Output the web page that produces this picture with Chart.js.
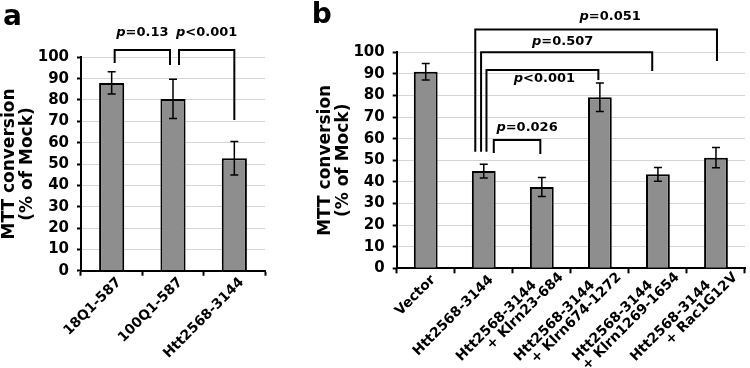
<!DOCTYPE html>
<html>
<head>
<meta charset="utf-8">
<script src="https://cdn.jsdelivr.net/npm/chart.js@4"></script>
<style>
  body { margin: 0; background: #fff; }
  canvas { position: absolute; top: 0; }
  #chartA { left: 0; }
  #chartB { left: 300px; }
</style>
</head>
<body>
<canvas id="chartA" width="272" height="368"></canvas>
<canvas id="chartB" width="450" height="368"></canvas>
<script>
// panel a
const labelsA = ['18Q1-587', '100Q1-587', 'Htt2568-3144'];
const meansA = [88, 80.5, 52.7];
const errA = [5.2, 9.2, 7.8];
// comparisons: bar indices, bracket heights (in % units), label
const compA = [
  { from: 0, to: 1, top: 103.4, end1: 97.3, end2: 96.4, at: 111.4, text: 'p=0.13' },
  { from: 1, to: 2, top: 103.4, end1: 96.4, end2: 70.6, at: 111.4, text: 'p<0.001' }
];

// panel b
const labelsB = ['Vector', 'Htt2568-3144',
  ['Htt2568-3144', '+ Klrn23-684'],
  ['Htt2568-3144', '+ Klrn674-1272'],
  ['Htt2568-3144', '+ Klrn1269-1654'],
  ['Htt2568-3144', '+ Rac1G12V']];
const meansB = [91, 45, 37.6, 79.2, 43.5, 51.2];
const errB = [3.8, 3.2, 4.4, 6.6, 3.2, 4.7];
const compB = [
  { from: 1, to: 5, top: 110.6, end1: 54, end2: 96, at: 116.5, text: 'p=0.051' },
  { from: 1, to: 4, top: 100, end1: 54, end2: 91.3, at: 104.9, text: 'p=0.507' },
  { from: 1, to: 3, top: 91.8, end1: 54, end2: 87.2, at: 87.6, text: 'p<0.001' },
  { from: 1, to: 2, top: 59.4, end1: 53.4, end2: 52.9, at: 65, text: 'p=0.026' }
];

// small pixel nudges so the bracket legs don't sit on top of each other
const shiftA = [[3, -3, 0], [6, 0, 0]];
const shiftB = [[-8.5, 1, 14], [-2.7, -5.7, -4], [2.7, -1.5, 2], [10, -1.5, 10]];

const FONT = '"DejaVu Sans", sans-serif';

function drawP(ctx, text, cx, cy) {
  const rest = text.slice(1);
  ctx.font = 'italic bold 13px ' + FONT;
  const w1 = ctx.measureText('p').width;
  ctx.font = 'bold 13px ' + FONT;
  const w2 = ctx.measureText(rest).width;
  let x = cx - (w1 + w2) / 2;
  ctx.textBaseline = 'middle';
  ctx.textAlign = 'left';
  ctx.fillStyle = '#000';
  ctx.font = 'italic bold 13px ' + FONT;
  ctx.fillText('p', x, cy);
  ctx.font = 'bold 13px ' + FONT;
  ctx.fillText(rest, x + w1, cy);
}

// category labels, rotated 45deg, second line pushed down-right like the original
function drawXLabels(chart) {
  const ctx = chart.ctx;
  const xs = chart.scales.x;
  const top = xs.top;
  ctx.save();
  ctx.fillStyle = '#000';
  ctx.font = 'bold 13.8px ' + FONT;
  ctx.textAlign = 'right';
  ctx.textBaseline = 'middle';
  chart.data.labels.forEach((lab, i) => {
    const lines = Array.isArray(lab) ? lab : [lab];
    const n = lines.length;
    ctx.save();
    ctx.translate(xs.getPixelForValue(i) + 4, top + 6);
    ctx.rotate(-Math.PI / 4);
    lines.forEach((t, k) => {
      const m = k - (n - 1) / 2;
      ctx.fillText(t, m * 24.5 - (n > 1 ? 2 : 0), 5 + m * 13.2);
    });
    ctx.restore();
  });
  ctx.restore();
}

function overlay(errors, comps, shifts, letter, lx, ly) {
  return {
    id: 'overlay',
    afterDatasetsDraw(chart) {
      const ctx = chart.ctx;
      const y = chart.scales.y;
      const meta = chart.getDatasetMeta(0);
      const vals = chart.data.datasets[0].data;
      ctx.save();
      ctx.strokeStyle = '#000';
      ctx.lineWidth = 1.5;
      errors.forEach((e, i) => {
        const x = meta.data[i].x;
        const hi = y.getPixelForValue(vals[i] + e);
        const lo = y.getPixelForValue(vals[i] - e);
        ctx.beginPath();
        ctx.moveTo(x, hi); ctx.lineTo(x, lo);
        ctx.moveTo(x - 4, hi); ctx.lineTo(x + 4, hi);
        ctx.moveTo(x - 4, lo); ctx.lineTo(x + 4, lo);
        ctx.stroke();
      });
      ctx.lineWidth = 2;
      ctx.lineJoin = 'miter';
      comps.forEach((c, k) => {
        const s = shifts[k];
        const x1 = meta.data[c.from].x + s[0];
        const x2 = meta.data[c.to].x + s[1];
        const yt = y.getPixelForValue(c.top);
        ctx.beginPath();
        ctx.moveTo(x1, y.getPixelForValue(c.end1));
        ctx.lineTo(x1, yt);
        ctx.lineTo(x2, yt);
        ctx.lineTo(x2, y.getPixelForValue(c.end2));
        ctx.stroke();
        drawP(ctx, c.text, (x1 + x2) / 2 + s[2], y.getPixelForValue(c.at));
      });
      ctx.font = 'bold 28px ' + FONT;
      ctx.fillStyle = '#000';
      ctx.textAlign = 'left';
      ctx.textBaseline = 'alphabetic';
      ctx.fillText(letter, lx, ly);
      ctx.restore();
      drawXLabels(chart);
    }
  };
}

function makeChart(id, labels, means, errors, comps, shifts, letter, lx, ly, pad, xh) {
  return new Chart(document.getElementById(id), {
    type: 'bar',
    data: {
      labels: labels,
      datasets: [{
        data: means,
        backgroundColor: '#8e8e8e',
        borderColor: '#000',
        borderWidth: 2,
        barPercentage: 0.41,
        categoryPercentage: 1
      }]
    },
    options: {
      responsive: false,
      animation: false,
      devicePixelRatio: 1,
      layout: { padding: pad },
      plugins: { legend: { display: false }, tooltip: { enabled: false } },
      scales: {
        x: {
          grid: { drawOnChartArea: false, tickLength: 5, tickColor: '#000', tickWidth: 2 },
          border: { color: '#000', width: 2 },
          ticks: { display: false },
          afterFit: s => { s.height = xh; }
        },
        y: {
          min: 0, max: 100,
          grid: { color: '#d4d4d4', tickLength: 4, tickColor: '#000', tickWidth: 2 },
          border: { color: '#000', width: 2 },
          ticks: {
            stepSize: 10, color: '#000', padding: 8,
            font: { family: FONT, weight: 'bold', size: 15 }
          },
          title: {
            display: true, text: ['MTT conversion', '(% of Mock)'], color: '#000',
            padding: { top: 1, bottom: 0 },
            font: { family: FONT, weight: 'bold', size: 17, lineHeight: 1.05 }
          },
          afterFit: s => { s.width = 81; }
        }
      }
    },
    plugins: [overlay(errors, comps, shifts, letter, lx, ly)]
  });
}

makeChart('chartA', labelsA, meansA, errA, compA, shiftA, 'a', 3, 25,
  { top: 57.3, right: 7, left: 0, bottom: 0 }, 97.3);
makeChart('chartB', labelsB, meansB, errB, compB, shiftB, 'b', 11.7, 23,
  { top: 52.3, right: 5, left: 15.7, bottom: 0 }, 99.7);
</script>
</body>
</html>
